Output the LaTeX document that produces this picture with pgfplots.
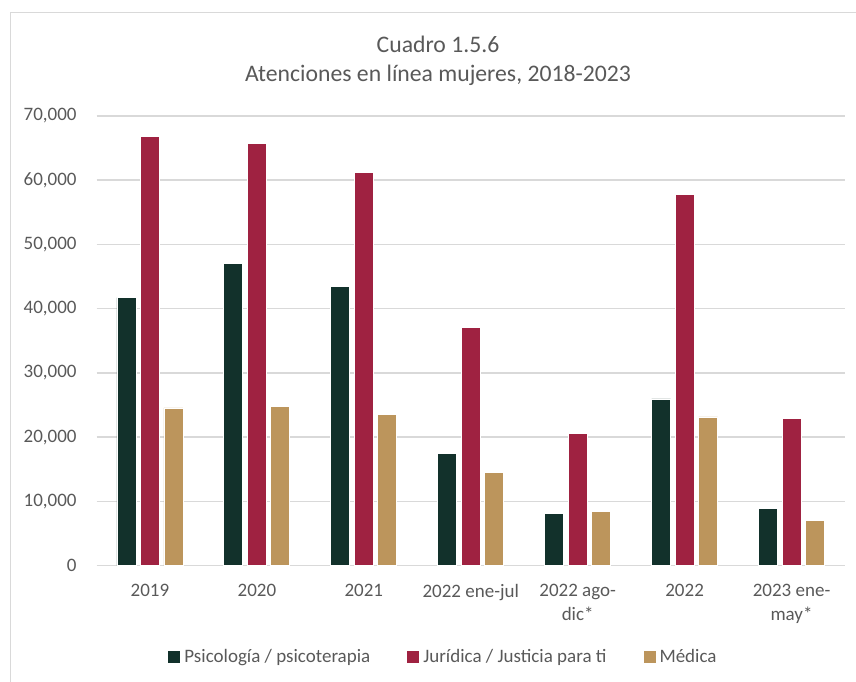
\documentclass[border=0pt]{standalone}
\usepackage{pgfplots}
\pgfplotsset{compat=1.18}
\usepackage{fontspec}
\setmainfont{Carlito}
\definecolor{cgreen}{HTML}{12312B}
\definecolor{cmaroon}{HTML}{9F2241}
\definecolor{cgold}{HTML}{BC955C}
\definecolor{ctext}{HTML}{595959}
\definecolor{cgrid}{HTML}{D9D9D9}
\definecolor{cframe}{HTML}{D9D9D9}
\begin{document}
\begin{tikzpicture}
\useasboundingbox (0,0) rectangle (428pt,340.5pt);
\draw[cframe, line width=0.6pt] (5.25pt,-10pt) -- (5.25pt,334.25pt) -- (450pt,334.25pt);
\node[font=\fontsize{11.85}{14}\selectfont, text=ctext] at (219pt,318.5pt) {Cuadro 1.5.6};
\node[font=\fontsize{11.85}{14}\selectfont, text=ctext] at (219pt,303pt) {Atenciones en línea mujeres, 2018-2023};
\begin{axis}[
  at={(48.25pt,57.75pt)}, anchor=south west,
  width=374.25pt, height=224.75pt, scale only axis,
  ymin=0, ymax=70000, xmin=-0.5, xmax=6.5,
  ytick={0,10000,...,70000},
  scaled y ticks=false,
  yticklabel={\pgfmathprintnumber[fixed,precision=0,1000 sep={,},assume math mode=true]{\tick}},
  xtick={0,1,2,3,4,5,6},
  xticklabels={2019,2020,2021,2022 ene-jul,{2022 ago-\\dic*},2022,{2023 ene-\\may*}},
  axis line style={draw=none},
  major tick length=0pt,
  ymajorgrids, grid style={cgrid, line width=0.75pt},
  tick label style={text=ctext, font=\fontsize{9.5}{12}\selectfont},
  yticklabel style={anchor=east, inner sep=0pt, xshift=-9.75pt},
  xticklabel style={anchor=north, inner sep=0pt, yshift=-9pt, align=center},
  ybar, bar width=9.5pt,
  every axis plot/.append style={draw=white, line width=0.4pt},
  legend columns=3,
  legend style={at={(0.4636,-0.2036)}, anchor=center, draw=none, fill=none,
    font=\fontsize{9.5}{12}\selectfont, text=ctext,
    /tikz/every odd column/.append style={column sep=1pt},
    /tikz/every even column/.append style={column sep=17.5pt},
    nodes={inner sep=1pt}},
  legend image code/.code={\fill[#1,draw=none] (0pt,-3pt) rectangle (6pt,3pt);},
]
\addplot[fill=cgreen, bar shift=-11.75pt] coordinates {(0,41700) (1,47030) (2,43500) (3,17520) (4,8170) (5,25940) (6,8950)};
\addplot[fill=cmaroon, bar shift=0pt] coordinates {(0,66780) (1,65740) (2,61220) (3,37010) (4,20580) (5,57750) (6,22870)};
\addplot[fill=cgold, bar shift=11.75pt] coordinates {(0,24530) (1,24790) (2,23490) (3,14500) (4,8480) (5,23140) (6,6970)};
\legend{Psicología / psicoterapia, Jurídica / Justicia para ti, Médica}
\end{axis}
\end{tikzpicture}
\end{document}
